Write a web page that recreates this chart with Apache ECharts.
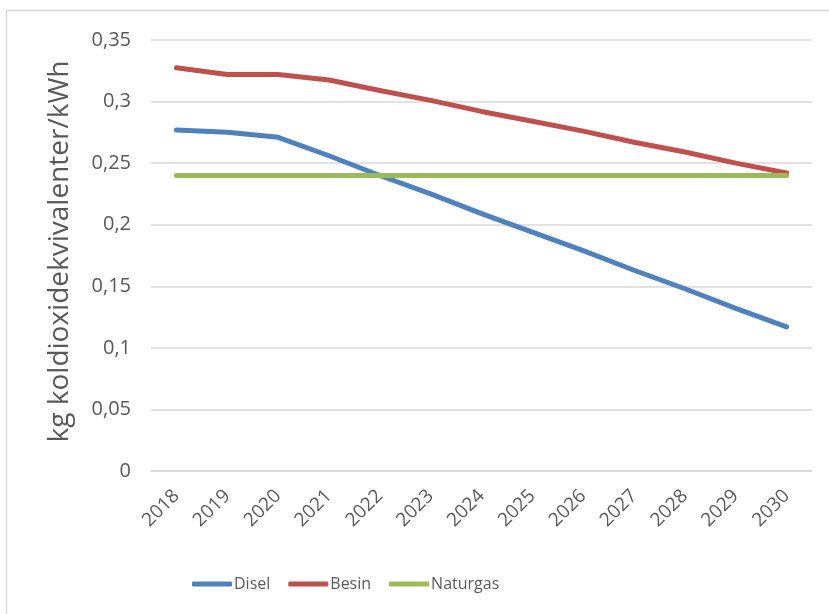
<!DOCTYPE html>
<html>
<head>
<meta charset="utf-8">
<script src="https://cdn.jsdelivr.net/npm/echarts@6/dist/echarts.min.js"></script>
<style>
html, body { margin: 0; padding: 0; background: #fff; }
#main { width: 829px; height: 614px; }
</style>
</head>
<body>
<div id="main"></div>
<script>
// data
var years = ['2018', '2019', '2020', '2021', '2022', '2023', '2024', '2025', '2026', '2027', '2028', '2029', '2030'];
var disel = [0.277, 0.275, 0.271, 0.256, 0.240, 0.225, 0.209, 0.194, 0.179, 0.163, 0.148, 0.132, 0.117];
var besin = [0.3275, 0.322, 0.322, 0.3175, 0.309, 0.301, 0.292, 0.284, 0.276, 0.267, 0.259, 0.250, 0.242];
var naturgas = [0.24, 0.24, 0.24, 0.24, 0.24, 0.24, 0.24, 0.24, 0.24, 0.24, 0.24, 0.24, 0.24];
var yTicks = ['0', '0,05', '0,1', '0,15', '0,2', '0,25', '0,3', '0,35'];

var font = '"Open Sans", "Noto Sans", sans-serif';
var grey = '#595959';

var myChart = echarts.init(document.getElementById('main'));
var option = {
	animation: false,
	textStyle: { fontFamily: font },
	color: ['#4f81bd', '#c0504d', '#9bbb59'],
	graphic: [{
		type: 'polyline',
		shape: { points: [[6.5, 614], [6.5, 10.5], [829, 10.5]] },
		style: { stroke: '#d9d9d9', lineWidth: 1.5, fill: null }
	}],
	grid: { left: 151, right: 17, top: 40, bottom: 143 },
	legend: {
		top: 571,
		left: 187,
		itemWidth: 40,
		itemHeight: 5,
		itemGap: 18,
		icon: 'roundRect',
		textStyle: { color: grey, fontSize: 16, fontFamily: font, padding: [0, 0, 0, -3] },
		data: ['Disel', 'Besin', 'Naturgas']
	},
	xAxis: {
		type: 'category',
		data: years,
		boundaryGap: true,
		axisLine: { show: true, lineStyle: { color: '#d9d9d9', width: 1.5 } },
		axisTick: { show: false },
		axisLabel: { rotate: 45, color: grey, fontSize: 19, margin: 22, interval: 0 }
	},
	yAxis: {
		type: 'value',
		min: 0,
		max: 0.35,
		interval: 0.05,
		name: 'kg koldioxidekvivalenter/kWh',
		nameLocation: 'middle',
		nameGap: 77,
		nameTextStyle: { color: grey, fontSize: 28, fontFamily: font, padding: [0, 0, 0, 8] },
		axisLine: { show: false },
		axisTick: { show: false },
		splitLine: { lineStyle: { color: '#d9d9d9', width: 1.5 } },
		axisLabel: {
			color: grey,
			fontSize: 20,
			margin: 20,
			formatter: function (v) {
				return yTicks[Math.round(v / 0.05)];
			}
		}
	},
	series: [{
		name: 'Disel',
		type: 'line',
		data: disel,
		symbol: 'none',
		lineStyle: { width: 5, cap: 'round', join: 'round' }
	}, {
		name: 'Besin',
		type: 'line',
		data: besin,
		symbol: 'none',
		lineStyle: { width: 5, cap: 'round', join: 'round' }
	}, {
		name: 'Naturgas',
		type: 'line',
		data: naturgas,
		symbol: 'none',
		lineStyle: { width: 5, cap: 'round', join: 'round' }
	}]
};
myChart.setOption(option);
</script>
</body>
</html>
